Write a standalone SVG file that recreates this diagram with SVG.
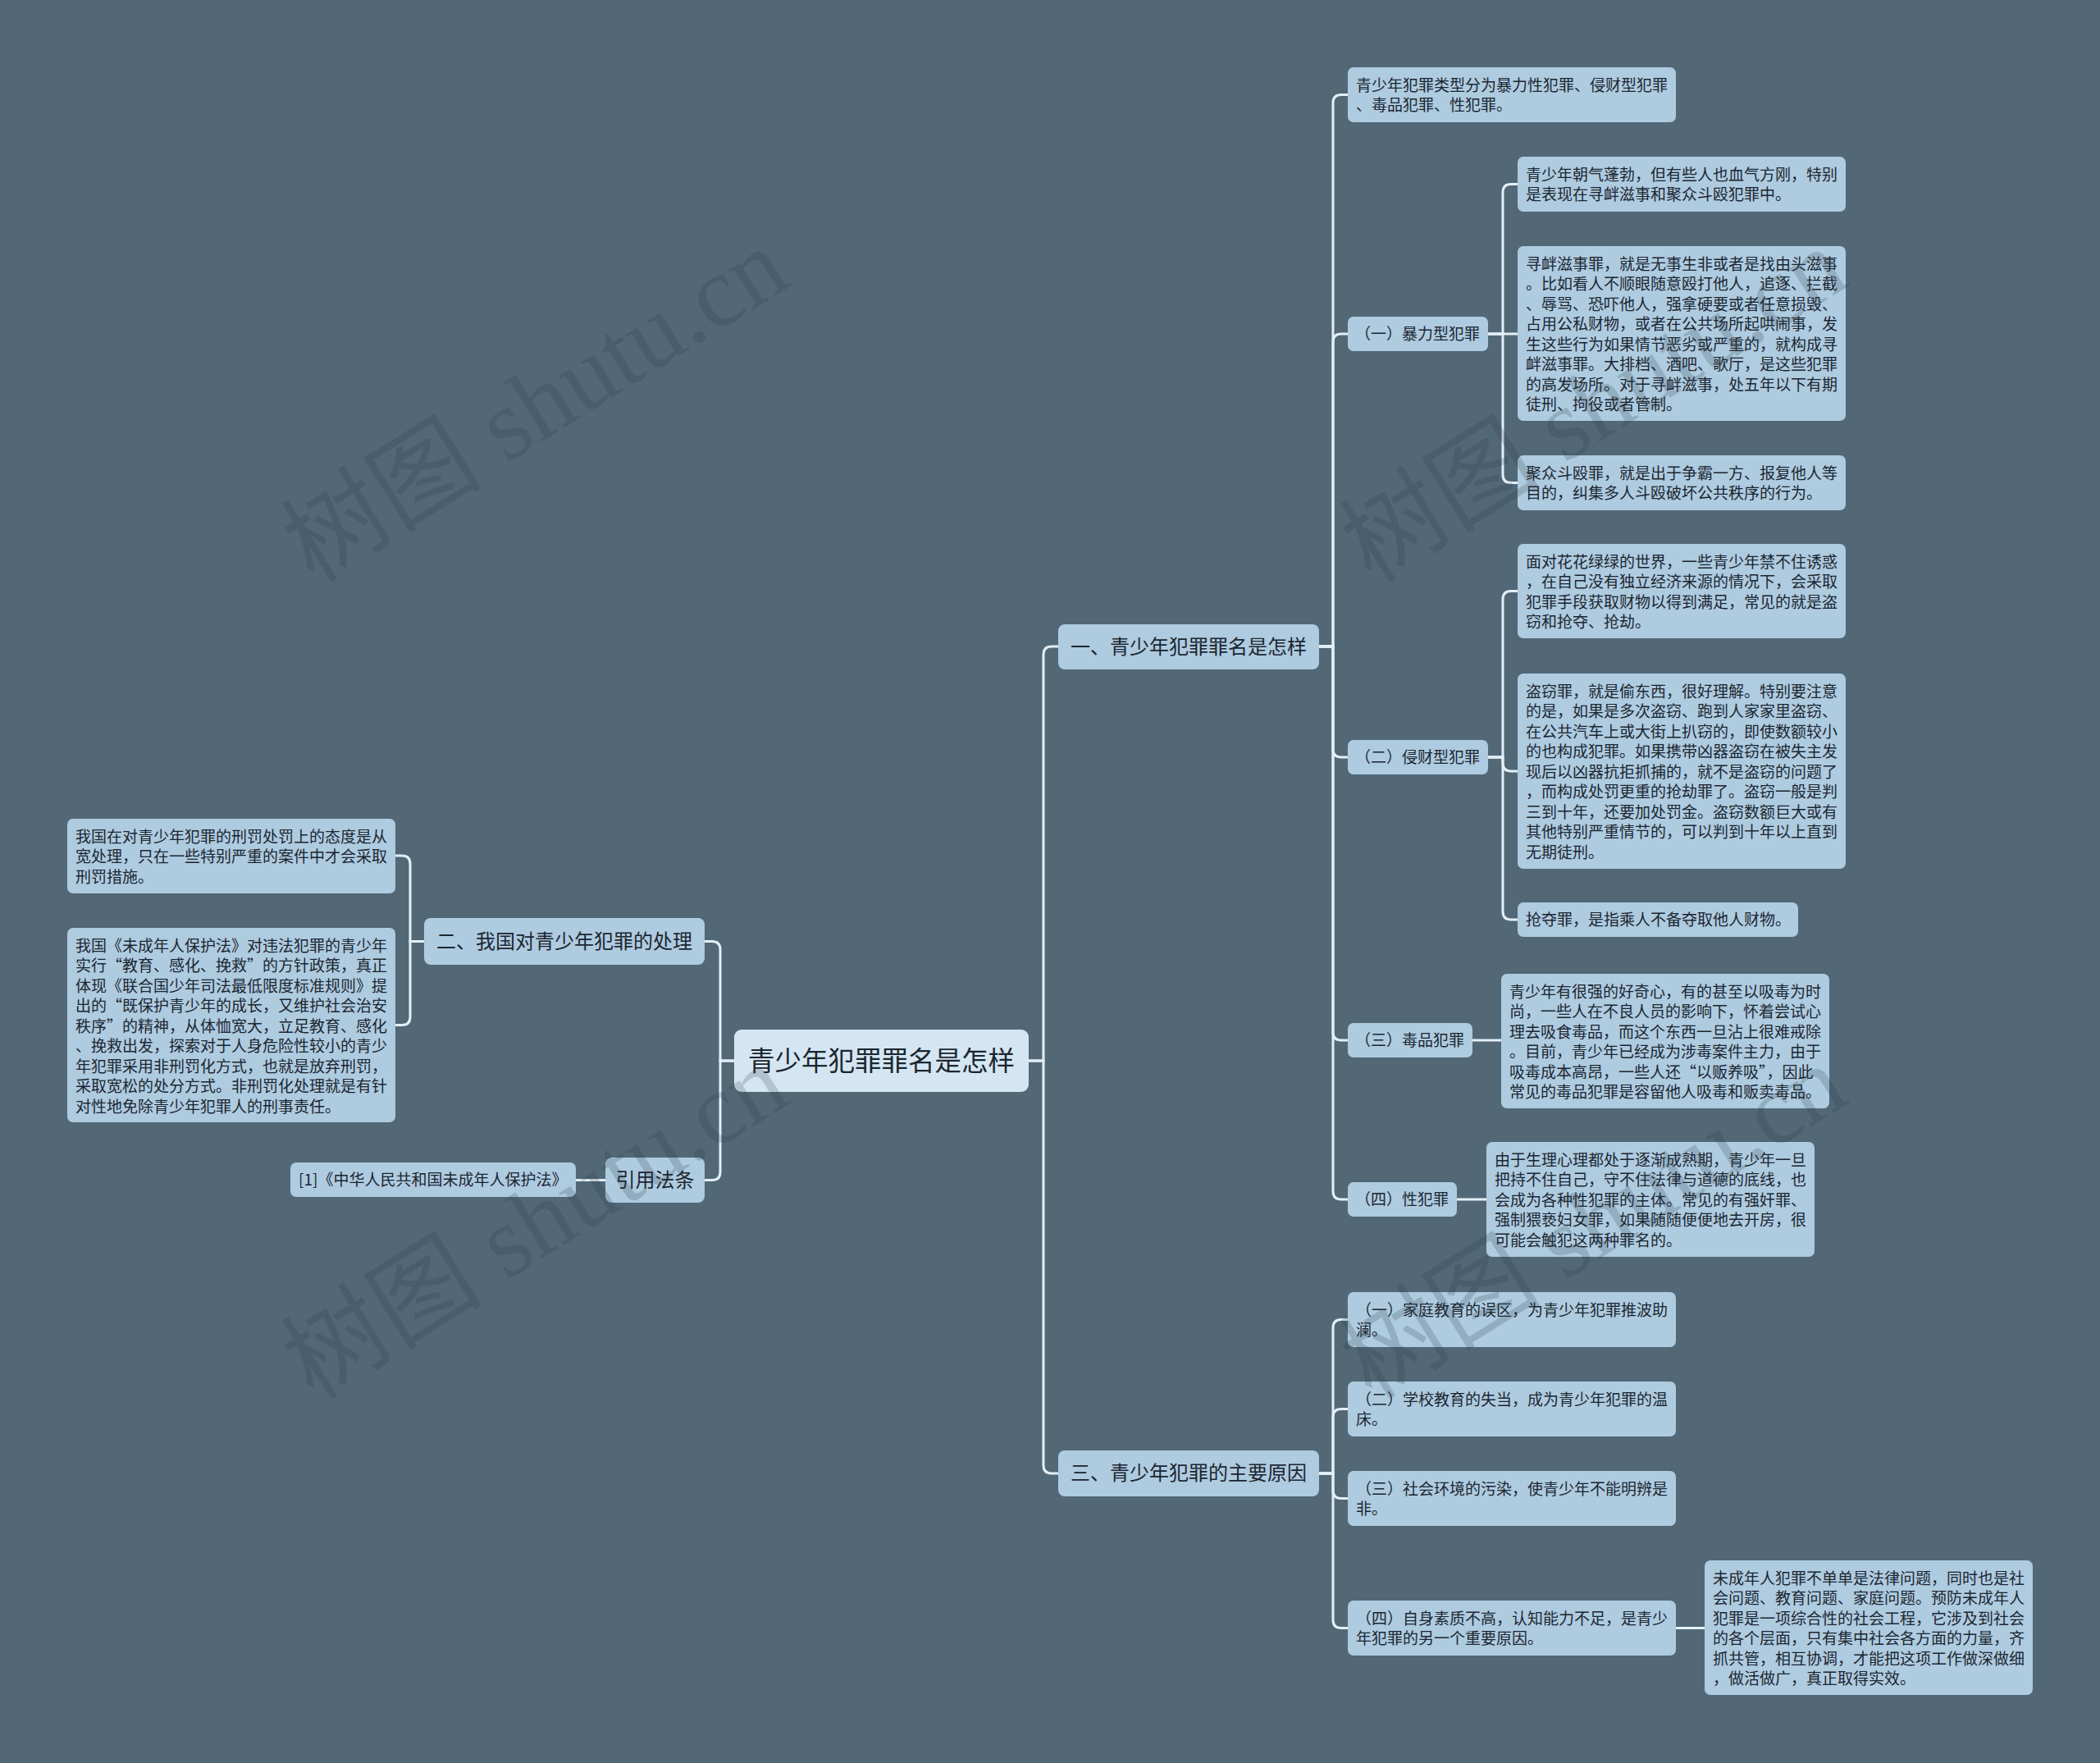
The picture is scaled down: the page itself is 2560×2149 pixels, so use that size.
<svg xmlns="http://www.w3.org/2000/svg" width="2560" height="2149" viewBox="0 0 2560 2149">
<style>
.bg{fill:#526877}
.n{fill:#aecbe0}
.r{fill:#d4e6f2}
.c{fill:none;stroke:#e3eff7;stroke-width:3;stroke-linecap:round}
.t{font-family:"Noto Sans CJK SC","Noto Sans",sans-serif;font-size:19px;fill:#1c2630}
.t1{font-family:"Noto Sans CJK SC","Noto Sans",sans-serif;font-size:24px;fill:#1c2630;text-anchor:middle}
.t0{font-family:"Noto Sans CJK SC","Noto Sans",sans-serif;font-size:32.5px;fill:#1c2630;text-anchor:middle}
.wm{font-family:"Liberation Serif","Noto Sans CJK SC",serif;font-size:123px;fill:#2a3a45;opacity:0.2}
</style>
<rect class="bg" x="0" y="0" width="2560" height="2149"/>

<g id="connectors">
<path class="c" d="M1254,1293 H1272 V798 Q1272,788 1282,788 H1290"/>
<path class="c" d="M1254,1293 H1272 V1786 Q1272,1796 1282,1796 H1290"/>
<path class="c" d="M895,1293 H878 V1157.5 Q878,1147.5 868,1147.5 H859"/>
<path class="c" d="M895,1293 H878 V1428.5 Q878,1438.5 868,1438.5 H859"/>
<path class="c" d="M1608,788 H1625 V125.5 Q1625,115.5 1635,115.5 H1643"/>
<path class="c" d="M1608,788 H1625 V417 Q1625,407 1635,407 H1643"/>
<path class="c" d="M1608,788 H1625 V913 Q1625,923 1635,923 H1643"/>
<path class="c" d="M1608,788 H1625 V1258 Q1625,1268 1635,1268 H1643"/>
<path class="c" d="M1608,788 H1625 V1452 Q1625,1462 1635,1462 H1643"/>
<path class="c" d="M1814,407 H1832 V234.5 Q1832,224.5 1842,224.5 H1850"/>
<path class="c" d="M1814,407 H1850"/>
<path class="c" d="M1814,407 H1832 V578.5 Q1832,588.5 1842,588.5 H1850"/>
<path class="c" d="M1814,923 H1832 V730.5 Q1832,720.5 1842,720.5 H1850"/>
<path class="c" d="M1814,923 H1832 V930 Q1832,940 1842,940 H1850"/>
<path class="c" d="M1814,923 H1832 V1111 Q1832,1121 1842,1121 H1850"/>
<path class="c" d="M1795,1268 H1830"/>
<path class="c" d="M1776,1462 H1812"/>
<path class="c" d="M1608,1796 H1625 V1618.5 Q1625,1608.5 1635,1608.5 H1643"/>
<path class="c" d="M1608,1796 H1625 V1727.5 Q1625,1717.5 1635,1717.5 H1643"/>
<path class="c" d="M1608,1796 H1625 V1816.5 Q1625,1826.5 1635,1826.5 H1643"/>
<path class="c" d="M1608,1796 H1625 V1974.5 Q1625,1984.5 1635,1984.5 H1643"/>
<path class="c" d="M2043,1984.5 H2078"/>
<path class="c" d="M517,1147.5 H500 V1053 Q500,1043 490,1043 H482"/>
<path class="c" d="M517,1147.5 H500 V1239.5 Q500,1249.5 490,1249.5 H482"/>
<path class="c" d="M738,1438.5 H702"/>
</g>

<g id="root">
<rect class="r" x="895" y="1255" width="359" height="76" rx="9"/>
<text class="t0" x="1074.5" y="1304.5">青少年犯罪罪名是怎样</text>
</g>

<g id="n1">
<rect class="n" x="1290" y="761" width="318" height="55" rx="8"/>
<text class="t1" x="1449" y="797">一、青少年犯罪罪名是怎样</text>
</g>
<g id="n2">
<rect class="n" x="517" y="1119" width="342" height="57" rx="8"/>
<text class="t1" x="688" y="1156">二、我国对青少年犯罪的处理</text>
</g>
<g id="n3">
<rect class="n" x="1290" y="1768" width="318" height="56" rx="8"/>
<text class="t1" x="1449" y="1804">三、青少年犯罪的主要原因</text>
</g>
<g id="n4">
<rect class="n" x="738" y="1411" width="121" height="55" rx="8"/>
<text class="t1" x="798.5" y="1447">引用法条</text>
</g>

<g id="types">
<rect class="n" x="1643" y="82" width="400" height="67" rx="7"/>
<text class="t"><tspan x="1653" y="110.5">青少年犯罪类型分为暴力性犯罪、侵财型犯罪</tspan><tspan x="1653" y="135">、毒品犯罪、性犯罪。</tspan></text>
</g>

<g id="violent">
<rect class="n" x="1643" y="386" width="171" height="42" rx="7"/>
<text class="t" x="1652" y="414">（一）暴力型犯罪</text>
</g>
<g id="v1">
<rect class="n" x="1850" y="191" width="400" height="67" rx="7"/>
<text class="t"><tspan x="1860" y="219.5">青少年朝气蓬勃，但有些人也血气方刚，特别</tspan><tspan x="1860" y="244">是表现在寻衅滋事和聚众斗殴犯罪中。</tspan></text>
</g>
<g id="v2">
<rect class="n" x="1850" y="300" width="400" height="213" rx="7"/>
<text class="t"><tspan x="1860" y="328.5">寻衅滋事罪，就是无事生非或者是找由头滋事</tspan><tspan x="1860" y="353">。比如看人不顺眼随意殴打他人，追逐、拦截</tspan><tspan x="1860" y="377.5">、辱骂、恐吓他人，强拿硬要或者任意损毁、</tspan><tspan x="1860" y="402">占用公私财物，或者在公共场所起哄闹事，发</tspan><tspan x="1860" y="426.5">生这些行为如果情节恶劣或严重的，就构成寻</tspan><tspan x="1860" y="451">衅滋事罪。大排档、酒吧、歌厅，是这些犯罪</tspan><tspan x="1860" y="475.5">的高发场所。对于寻衅滋事，处五年以下有期</tspan><tspan x="1860" y="500">徒刑、拘役或者管制。</tspan></text>
</g>
<g id="v3">
<rect class="n" x="1850" y="555" width="400" height="67" rx="7"/>
<text class="t"><tspan x="1860" y="583.5">聚众斗殴罪，就是出于争霸一方、报复他人等</tspan><tspan x="1860" y="608">目的，纠集多人斗殴破坏公共秩序的行为。</tspan></text>
</g>

<g id="property">
<rect class="n" x="1643" y="902" width="171" height="42" rx="7"/>
<text class="t" x="1652" y="930">（二）侵财型犯罪</text>
</g>
<g id="p1">
<rect class="n" x="1850" y="663" width="400" height="115" rx="7"/>
<text class="t"><tspan x="1860" y="691.5">面对花花绿绿的世界，一些青少年禁不住诱惑</tspan><tspan x="1860" y="716">，在自己没有独立经济来源的情况下，会采取</tspan><tspan x="1860" y="740.5">犯罪手段获取财物以得到满足，常见的就是盗</tspan><tspan x="1860" y="765">窃和抢夺、抢劫。</tspan></text>
</g>
<g id="p2">
<rect class="n" x="1850" y="821" width="400" height="238" rx="7"/>
<text class="t"><tspan x="1860" y="849.5">盗窃罪，就是偷东西，很好理解。特别要注意</tspan><tspan x="1860" y="874">的是，如果是多次盗窃、跑到人家家里盗窃、</tspan><tspan x="1860" y="898.5">在公共汽车上或大街上扒窃的，即使数额较小</tspan><tspan x="1860" y="923">的也构成犯罪。如果携带凶器盗窃在被失主发</tspan><tspan x="1860" y="947.5">现后以凶器抗拒抓捕的，就不是盗窃的问题了</tspan><tspan x="1860" y="972">，而构成处罚更重的抢劫罪了。盗窃一般是判</tspan><tspan x="1860" y="996.5">三到十年，还要加处罚金。盗窃数额巨大或有</tspan><tspan x="1860" y="1021">其他特别严重情节的，可以判到十年以上直到</tspan><tspan x="1860" y="1045.5">无期徒刑。</tspan></text>
</g>
<g id="p3">
<rect class="n" x="1850" y="1100" width="342" height="42" rx="7"/>
<text class="t" x="1860" y="1128">抢夺罪，是指乘人不备夺取他人财物。</text>
</g>

<g id="drug">
<rect class="n" x="1643" y="1247" width="152" height="42" rx="7"/>
<text class="t" x="1652" y="1275">（三）毒品犯罪</text>
</g>
<g id="d1">
<rect class="n" x="1830" y="1187" width="400" height="164" rx="7"/>
<text class="t"><tspan x="1840" y="1215.5">青少年有很强的好奇心，有的甚至以吸毒为时</tspan><tspan x="1840" y="1240">尚，一些人在不良人员的影响下，怀着尝试心</tspan><tspan x="1840" y="1264.5">理去吸食毒品，而这个东西一旦沾上很难戒除</tspan><tspan x="1840" y="1289">。目前，青少年已经成为涉毒案件主力，由于</tspan><tspan x="1840" y="1313.5">吸毒成本高昂，一些人还“以贩养吸”，因此</tspan><tspan x="1840" y="1338">常见的毒品犯罪是容留他人吸毒和贩卖毒品。</tspan></text>
</g>

<g id="sex">
<rect class="n" x="1643" y="1441" width="133" height="42" rx="7"/>
<text class="t" x="1652" y="1469">（四）性犯罪</text>
</g>
<g id="s1">
<rect class="n" x="1812" y="1392" width="400" height="140" rx="7"/>
<text class="t"><tspan x="1822" y="1420.5">由于生理心理都处于逐渐成熟期，青少年一旦</tspan><tspan x="1822" y="1445">把持不住自己，守不住法律与道德的底线，也</tspan><tspan x="1822" y="1469.5">会成为各种性犯罪的主体。常见的有强奸罪、</tspan><tspan x="1822" y="1494">强制猥亵妇女罪，如果随随便便地去开房，很</tspan><tspan x="1822" y="1518.5">可能会触犯这两种罪名的。</tspan></text>
</g>

<g id="c1">
<rect class="n" x="1643" y="1575" width="400" height="67" rx="7"/>
<text class="t"><tspan x="1653" y="1603.5">（一）家庭教育的误区，为青少年犯罪推波助</tspan><tspan x="1653" y="1628">澜。</tspan></text>
</g>
<g id="c2">
<rect class="n" x="1643" y="1684" width="400" height="67" rx="7"/>
<text class="t"><tspan x="1653" y="1712.5">（二）学校教育的失当，成为青少年犯罪的温</tspan><tspan x="1653" y="1737">床。</tspan></text>
</g>
<g id="c3">
<rect class="n" x="1643" y="1793" width="400" height="67" rx="7"/>
<text class="t"><tspan x="1653" y="1821.5">（三）社会环境的污染，使青少年不能明辨是</tspan><tspan x="1653" y="1846">非。</tspan></text>
</g>
<g id="c4">
<rect class="n" x="1643" y="1951" width="400" height="67" rx="7"/>
<text class="t"><tspan x="1653" y="1979.5">（四）自身素质不高，认知能力不足，是青少</tspan><tspan x="1653" y="2004">年犯罪的另一个重要原因。</tspan></text>
</g>
<g id="c4a">
<rect class="n" x="2078" y="1902" width="400" height="164" rx="7"/>
<text class="t"><tspan x="2088" y="1930.5">未成年人犯罪不单单是法律问题，同时也是社</tspan><tspan x="2088" y="1955">会问题、教育问题、家庭问题。预防未成年人</tspan><tspan x="2088" y="1979.5">犯罪是一项综合性的社会工程，它涉及到社会</tspan><tspan x="2088" y="2004">的各个层面，只有集中社会各方面的力量，齐</tspan><tspan x="2088" y="2028.5">抓共管，相互协调，才能把这项工作做深做细</tspan><tspan x="2088" y="2053">，做活做广，真正取得实效。</tspan></text>
</g>

<g id="l1">
<rect class="n" x="82" y="998" width="400" height="91" rx="7"/>
<text class="t"><tspan x="92" y="1026.5">我国在对青少年犯罪的刑罚处罚上的态度是从</tspan><tspan x="92" y="1051">宽处理，只在一些特别严重的案件中才会采取</tspan><tspan x="92" y="1075.5">刑罚措施。</tspan></text>
</g>
<g id="l2">
<rect class="n" x="82" y="1131" width="400" height="237" rx="7"/>
<text class="t"><tspan x="92" y="1159.5">我国《未成年人保护法》对违法犯罪的青少年</tspan><tspan x="92" y="1184">实行“教育、感化、挽救”的方针政策，真正</tspan><tspan x="92" y="1208.5">体现《联合国少年司法最低限度标准规则》提</tspan><tspan x="92" y="1233">出的“既保护青少年的成长，又维护社会治安</tspan><tspan x="92" y="1257.5">秩序”的精神，从体恤宽大，立足教育、感化</tspan><tspan x="92" y="1282">、挽救出发，探索对于人身危险性较小的青少</tspan><tspan x="92" y="1306.5">年犯罪采用非刑罚化方式，也就是放弃刑罚，</tspan><tspan x="92" y="1331">采取宽松的处分方式。非刑罚化处理就是有针</tspan><tspan x="92" y="1355.5">对性地免除青少年犯罪人的刑事责任。</tspan></text>
</g>
<g id="law">
<rect class="n" x="354" y="1417" width="348" height="42" rx="7"/>
<text class="t" x="364" y="1445">[1]《中华人民共和国未成年人保护法》</text>
</g>

<g id="watermark">
<text class="wm" x="382" y="712" transform="rotate(-32 382 712)">树图 shutu.cn</text>
<text class="wm" x="1672" y="712" transform="rotate(-32 1672 712)">树图 shutu.cn</text>
<text class="wm" x="382" y="1708" transform="rotate(-32 382 1708)">树图 shutu.cn</text>
<text class="wm" x="1672" y="1708" transform="rotate(-32 1672 1708)">树图 shutu.cn</text>
</g>
</svg>
